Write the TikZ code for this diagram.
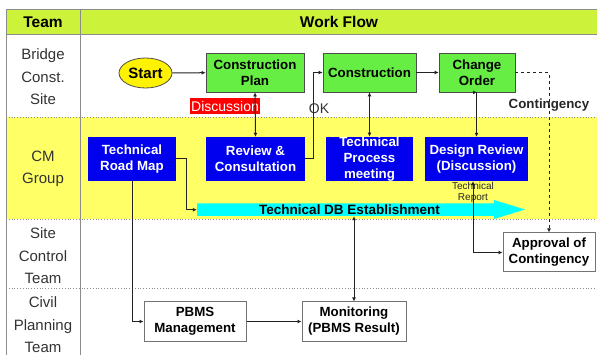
\documentclass[tikz,border=0pt]{standalone}
\usepackage{fontspec}
\setmainfont{Liberation Sans}
\usetikzlibrary{shapes.geometric,arrows.meta}
\definecolor{hdr}{HTML}{CCF23A}
\definecolor{rowy}{HTML}{FFFF66}
\definecolor{grn}{HTML}{66EE44}
\definecolor{blu}{HTML}{0000EE}
\definecolor{cyn}{HTML}{00FFFF}
\definecolor{lbl}{HTML}{333333}
\definecolor{edge}{HTML}{222222}
\tikzset{
  every node/.style={font=\fontsize{13.3}{16}\selectfont},
  team/.style={align=center,text=lbl,font=\fontsize{15}{22.5}\selectfont},
  hdrtxt/.style={font=\fontsize{15.5}{16}\selectfont\bfseries},
  greenbox/.style={draw=black!70,fill=grn,line width=0.8pt,align=center,inner sep=0pt,font=\fontsize{13.3}{16}\selectfont\bfseries},
  bluebox/.style={fill=blu,text=white,align=center,inner sep=0pt,font=\fontsize{13.3}{16}\selectfont\bfseries},
  whitebox/.style={draw=black!55,fill=white,line width=1pt,align=center,inner sep=0pt,font=\fontsize{13.3}{16}\selectfont\bfseries},
  conn/.style={draw=edge,line width=1pt,-{Latex[length=4pt,width=4pt]}},
  bconn/.style={draw=edge,line width=1pt,{Latex[length=4pt,width=4pt]}-{Latex[length=4pt,width=4pt]}},
  sep/.style={draw=black!45,line width=0.8pt,dotted},
}
\begin{document}
\begin{tikzpicture}[x=1pt,y=-1pt]
\useasboundingbox (0,0) rectangle (597,355);
% lanes
\fill[hdr] (6,9) rectangle (597,34);
\fill[white] (6,34) rectangle (597,117);
\fill[rowy] (6,117) rectangle (597,219);
\draw[black!45,line width=0.9pt] (597,9) -- (6,9) -- (6,355);
\draw[black!45,line width=0.9pt] (6,34) -- (597,34);
\draw[black!45,line width=0.9pt] (80,9) -- (80,355);
\draw[sep] (6,117) -- (597,117);
\draw[sep] (6,219) -- (597,219);
\draw[sep] (6,288) -- (597,288);
% headers
\node[hdrtxt] (hteam) at (43,22) {Team};
\node[hdrtxt] (hflow) at (339,22) {Work Flow};
\node[team] (t1) at (43,77) {Bridge\\Const.\\Site};
\node[team] (t2) at (43,169) {CM\\Group};
\node[team] (t3) at (43,256) {Site\\Control\\Team};
\node[team] (t4) at (43,325) {Civil\\Planning\\Team};
% nodes
\node[ellipse,draw=black!70,fill=yellow,line width=0.8pt,minimum width=53pt,minimum height=30pt,inner sep=0pt,font=\fontsize{15}{16}\selectfont\bfseries] (start) at (145.5,73) {Start};
\node[greenbox,minimum width=98pt,minimum height=39pt] (cplan) at (255,72.5) {Construction\\Plan};
\node[greenbox,minimum width=93pt,minimum height=39pt] (con) at (369.5,72.5) {Construction};
\node[greenbox,minimum width=76pt,minimum height=39pt] (chg) at (477,72.5) {Change\\Order};
\node[fill=red,text=white,inner sep=1pt,minimum width=70pt,minimum height=16pt,font=\fontsize{14}{16}\selectfont] (disc) at (225,106.5) {Discussion};
\node[text=black!80,font=\fontsize{14}{16}\selectfont] (ok) at (319,109) {OK};
\node[font=\fontsize{13.3}{16}\selectfont\bfseries,text=black!85] (cont) at (549,105.5) {Contingency};
\node[bluebox,minimum width=88pt,minimum height=44pt] (trm) at (132,159) {Technical\\Road Map};
\node[bluebox,minimum width=99pt,minimum height=44pt] (rev) at (255.5,159) {Review \&\\Consultation};
\node[bluebox,minimum width=87pt,minimum height=44pt] (tpm) at (369.5,159) {Technical\\Process\\meeting};
\node[bluebox,minimum width=103pt,minimum height=44pt] (dr) at (476.5,159) {Design Review\\(Discussion)};
% DB arrow
\fill[cyn] (197,203.5) -- (494,203.5) -- (494,200) -- (525,209.5) -- (494,219) -- (494,216) -- (197,216) -- cycle;
\node[minimum width=297pt,minimum height=12.5pt,inner sep=0pt,font=\fontsize{13.5}{16}\selectfont\bfseries] (db) at (345.5,209.75) {\hspace*{8pt}Technical DB Establishment};
\node[whitebox,minimum width=92pt,minimum height=39pt] (appr) at (549,252.5) {Approval of\\Contingency};
\node[whitebox,minimum width=102pt,minimum height=39pt] (pbms) at (195,321.5) {PBMS\\Management};
\node[whitebox,minimum width=104pt,minimum height=39pt] (mon) at (354,321.5) {Monitoring\\(PBMS Result)};
% connectors
\draw[conn] (start) -- (cplan);
\draw[bconn] (cplan.south) -- (rev.north);
\draw[conn] (rev.east) -- ++(8,0) |- (con.west);
\draw[conn] (con) -- (chg);
\draw[bconn] (con.south) -- (tpm.north);
\draw[bconn] (chg.south) -- (dr.south |- chg.south) -- (dr.north);
\draw[conn,dashed] (chg.east) -| (appr.north);
\draw[conn] (trm.east) -- ++(10,0) |- (db.west);
\draw[conn] (trm.south) |- (pbms.west);
\draw[conn] (pbms) -- (mon);
\draw[bconn] (mon.north) -- (mon.north |- db.south);
\draw[bconn] ([xshift=-3.5pt]dr.south) |- (appr.west);
\node[align=center,font=\fontsize{10}{11}\selectfont,text=black!85] (trep) at (473,192) {Technical\\Report};
\end{tikzpicture}
\end{document}
